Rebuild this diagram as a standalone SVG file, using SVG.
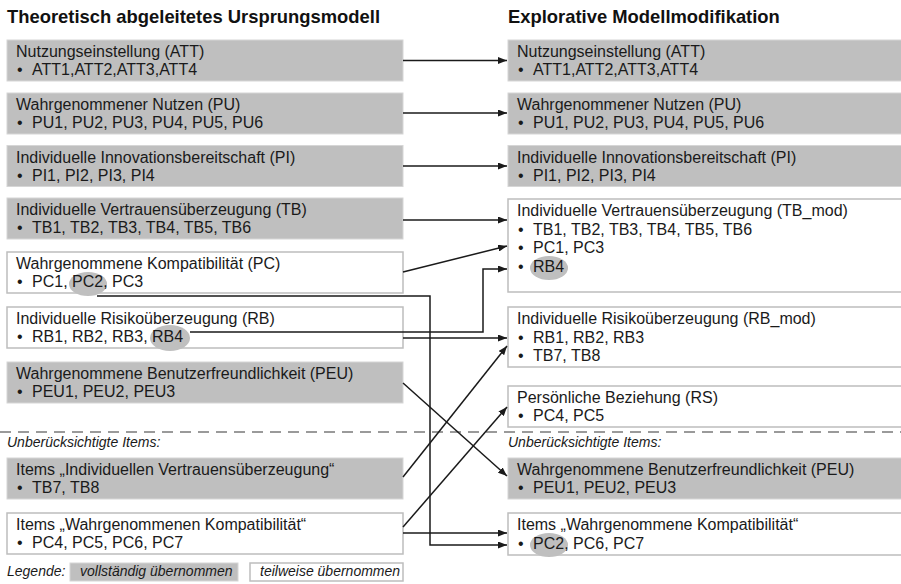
<svg xmlns="http://www.w3.org/2000/svg" width="901" height="584" viewBox="0 0 901 584">
<style>
.t{font-family:"Liberation Sans",Arial,sans-serif;font-size:16px;fill:#1a1a1a}
.h{font-family:"Liberation Sans",Arial,sans-serif;font-size:18.4px;font-weight:bold;fill:#111}
.i{font-family:"Liberation Sans",Arial,sans-serif;font-size:14px;font-style:italic;fill:#1a1a1a}
.g{fill:#bfbfbf;stroke:#d6d6d6;stroke-width:1}
.w{fill:#fff;stroke:#bdbdbd;stroke-width:1.5}
.e{fill:#bfbfbf}
.c{fill:none;stroke:#1a1a1a;stroke-width:1.5;marker-end:url(#a)}
.d{stroke:#9a9a9a;stroke-width:2;stroke-dasharray:11 7}
</style>
<defs>
<marker id="a" markerWidth="9" markerHeight="7" refX="9" refY="3.5" orient="auto" markerUnits="userSpaceOnUse"><path d="M0,0 L9,3.5 L0,7 z" fill="#1a1a1a"/></marker>
</defs>
<rect width="901" height="584" fill="#fff"/>
<text class="h" x="7" y="23">Theoretisch abgeleitetes Ursprungsmodell</text>
<text class="h" x="508" y="23">Explorative Modellmodifikation</text>

<g id="l-att"><rect class="g" x="7" y="40" width="396" height="41"/><text class="t" x="16" y="57">Nutzungseinstellung (ATT)</text><text class="t" x="17" y="75">•</text><text class="t" x="32" y="75">ATT1,ATT2,ATT3,ATT4</text></g>
<g id="l-pu"><rect class="g" x="7" y="93" width="396" height="41"/><text class="t" x="16" y="110">Wahrgenommener Nutzen (PU)</text><text class="t" x="17" y="128">•</text><text class="t" x="32" y="128">PU1, PU2, PU3, PU4, PU5, PU6</text></g>
<g id="l-pi"><rect class="g" x="7" y="145.5" width="396" height="41"/><text class="t" x="16" y="162.5">Individuelle Innovationsbereitschaft (PI)</text><text class="t" x="17" y="180.5">•</text><text class="t" x="32" y="180.5">PI1, PI2, PI3, PI4</text></g>
<g id="l-tb"><rect class="g" x="7" y="198" width="396" height="41"/><text class="t" x="16" y="215">Individuelle Vertrauensüberzeugung (TB)</text><text class="t" x="17" y="233">•</text><text class="t" x="32" y="233">TB1, TB2, TB3, TB4, TB5, TB6</text></g>
<g id="l-pc"><rect class="w" x="7" y="252" width="396" height="41"/><ellipse class="e" cx="88" cy="284" rx="19" ry="12"/><text class="t" x="16" y="269">Wahrgenommene Kompatibilität (PC)</text><text class="t" x="17" y="287">•</text><text class="t" x="32" y="287">PC1, PC2, PC3</text></g>
<g id="l-rb"><rect class="w" x="7" y="307" width="396" height="41"/><ellipse class="e" cx="170" cy="338" rx="20" ry="13"/><text class="t" x="16" y="324">Individuelle Risikoüberzeugung (RB)</text><text class="t" x="17" y="342">•</text><text class="t" x="32" y="342">RB1, RB2, RB3, RB4</text></g>
<g id="l-peu"><rect class="g" x="7" y="362" width="396" height="41"/><text class="t" x="16" y="379">Wahrgenommene Benutzerfreundlichkeit (PEU)</text><text class="t" x="17" y="397">•</text><text class="t" x="32" y="397">PEU1, PEU2, PEU3</text></g>

<line class="d" x1="0" y1="432" x2="901" y2="432"/>
<text class="i" x="7" y="447">Unberücksichtigte Items:</text>
<text class="i" x="508" y="447">Unberücksichtigte Items:</text>

<g id="l-itb"><rect class="g" x="7" y="458" width="396" height="41"/><text class="t" x="16" y="475">Items „Individuellen Vertrauensüberzeugung“</text><text class="t" x="17" y="493">•</text><text class="t" x="32" y="493">TB7, TB8</text></g>
<g id="l-ipc"><rect class="w" x="7" y="513" width="396" height="41"/><text class="t" x="16" y="530">Items „Wahrgenommenen Kompatibilität“</text><text class="t" x="17" y="548">•</text><text class="t" x="32" y="548">PC4, PC5, PC6, PC7</text></g>

<g id="legend"><text class="i" x="7" y="576">Legende:</text><rect class="g" x="70" y="563" width="168" height="18"/><text class="i" x="80" y="576">vollständig übernommen</text><rect class="w" x="250" y="563" width="153" height="18"/><text class="i" x="260" y="576">teilweise übernommen</text></g>

<g id="r-att"><rect class="g" x="508" y="40" width="400" height="41"/><text class="t" x="517" y="57">Nutzungseinstellung (ATT)</text><text class="t" x="518" y="75">•</text><text class="t" x="533" y="75">ATT1,ATT2,ATT3,ATT4</text></g>
<g id="r-pu"><rect class="g" x="508" y="93" width="400" height="41"/><text class="t" x="517" y="110">Wahrgenommener Nutzen (PU)</text><text class="t" x="518" y="128">•</text><text class="t" x="533" y="128">PU1, PU2, PU3, PU4, PU5, PU6</text></g>
<g id="r-pi"><rect class="g" x="508" y="145.5" width="400" height="41"/><text class="t" x="517" y="162.5">Individuelle Innovationsbereitschaft (PI)</text><text class="t" x="518" y="180.5">•</text><text class="t" x="533" y="180.5">PI1, PI2, PI3, PI4</text></g>
<g id="r-tb"><rect class="w" x="508" y="199" width="400" height="93"/><ellipse class="e" cx="549" cy="268" rx="19" ry="12"/><text class="t" x="517" y="216">Individuelle Vertrauensüberzeugung (TB_mod)</text><text class="t" x="518" y="234.5">•</text><text class="t" x="533" y="234.5">TB1, TB2, TB3, TB4, TB5, TB6</text><text class="t" x="518" y="253">•</text><text class="t" x="533" y="253">PC1, PC3</text><text class="t" x="518" y="272">•</text><text class="t" x="533" y="272">RB4</text></g>
<g id="r-rb"><rect class="w" x="508" y="307" width="400" height="60"/><text class="t" x="517" y="324">Individuelle Risikoüberzeugung (RB_mod)</text><text class="t" x="518" y="342.5">•</text><text class="t" x="533" y="342.5">RB1, RB2, RB3</text><text class="t" x="518" y="361">•</text><text class="t" x="533" y="361">TB7, TB8</text></g>
<g id="r-rs"><rect class="w" x="508" y="386" width="400" height="41"/><text class="t" x="517" y="403">Persönliche Beziehung (RS)</text><text class="t" x="518" y="421">•</text><text class="t" x="533" y="421">PC4, PC5</text></g>
<g id="r-peu"><rect class="g" x="508" y="458" width="400" height="41"/><text class="t" x="517" y="475">Wahrgenommene Benutzerfreundlichkeit (PEU)</text><text class="t" x="518" y="493">•</text><text class="t" x="533" y="493">PEU1, PEU2, PEU3</text></g>
<g id="r-ipc"><rect class="w" x="508" y="513" width="400" height="42"/><ellipse class="e" cx="549" cy="545" rx="19" ry="12"/><text class="t" x="517" y="530">Items „Wahrgenommene Kompatibilität“</text><text class="t" x="518" y="549">•</text><text class="t" x="533" y="549">PC2, PC6, PC7</text></g>

<g id="connectors">
<path class="c" d="M403,60.5 H507"/>
<path class="c" d="M403,113 H507"/>
<path class="c" d="M403,166 H507"/>
<path class="c" d="M403,220 H507"/>
<path class="c" d="M403,272 L507,246"/>
<path class="c" d="M97,296 H430 V545 H507"/>
<path class="c" d="M190,332 H483 V269 H507"/>
<path class="c" d="M403,338 H507"/>
<path class="c" d="M403,383 L507,476"/>
<path class="c" d="M403,477 L507,346"/>
<path class="c" d="M403,527 L507,407"/>
<path class="c" d="M403,533 H507"/>
</g>
</svg>
